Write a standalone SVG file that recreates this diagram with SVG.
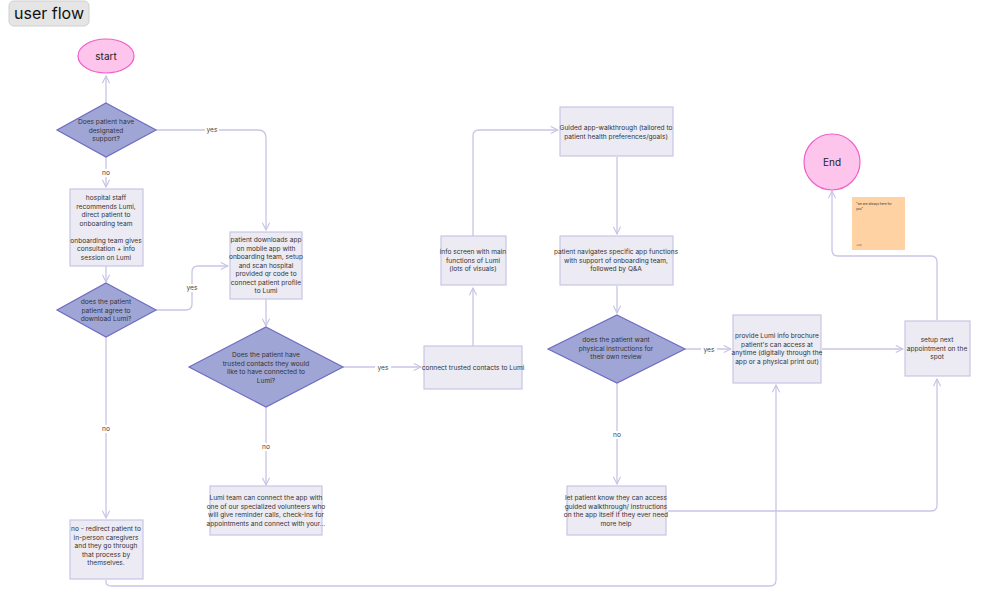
<svg xmlns="http://www.w3.org/2000/svg" width="1003" height="605" viewBox="0 0 1003 605">
<defs>
<marker id="ah" viewBox="0 0 10 10" refX="9" refY="5" markerWidth="9" markerHeight="9" orient="auto" markerUnits="userSpaceOnUse"><path d="M1,1 L9,5 L1,9" fill="none" stroke="#c6c2e4" stroke-width="1.2"/></marker>
<style>
.b{fill:#ecebf3;stroke:#c9c5e4;stroke-width:1.2}
.d{fill:#9fa6d6;stroke:#6e6cc2;stroke-width:1.2}
.t{font-family:Inter,"Liberation Sans",sans-serif;font-size:6.6px;fill:#333;text-anchor:middle}
.l{font-family:Inter,"Liberation Sans",sans-serif;font-size:6.6px;fill:#444;text-anchor:middle}
.c path{fill:none;stroke:#c9c5e6;stroke-width:1.3;marker-end:url(#ah)}
.c path.n{marker-end:none}
.lb{fill:#fff}
</style>
</defs>
<rect width="1003" height="605" fill="#fff"/>
<g id="title"><rect x="9" y="1" width="80" height="25" rx="5" fill="#e5e5e5" stroke="#cfcfcf"/><text x="49" y="19" font-family="Inter,'Liberation Sans',sans-serif" font-size="16" fill="#111" text-anchor="middle">user flow</text></g>
<g class="c" id="connectors">
<path d="M106,103 V76"/>
<path d="M156,130 H258 Q266,130 266,138 V230"/>
<path d="M106,157 V187"/>
<path d="M106,266 V282"/>
<path d="M156,310 H186 Q192,310 192,304 V272 Q192,266 198,266 H228"/>
<path d="M106,337 V518"/>
<path d="M106,580 V582 Q106,586 112,586 H770 Q776,586 776,580 V385"/>
<path d="M266,299 V326"/>
<path d="M343,367 H421"/>
<path d="M266,407 V485"/>
<path d="M473,346 V288"/>
<path d="M473,236 V136 Q473,130 479,130 H558"/>
<path d="M617,157 V234"/>
<path d="M617,286 V313"/>
<path d="M685,349 H731"/>
<path d="M617,383 V484"/>
<path d="M668,511 H931 Q937,511 937,505 V379"/>
<path d="M822,349 H903"/>
<path d="M937,320 V262 Q937,256 931,256 H838 Q832,256 832,250 V191"/>
<rect class="lb" x="205" y="126" width="14" height="8"/><text class="l" x="212" y="132">yes</text>
<rect class="lb" x="99" y="169" width="14" height="8"/><text class="l" x="106" y="175">no</text>
<rect class="lb" x="185" y="284" width="14" height="8"/><text class="l" x="192" y="290">yes</text>
<rect class="lb" x="99" y="425" width="14" height="8"/><text class="l" x="106" y="431">no</text>
<rect class="lb" x="375" y="363" width="16" height="8"/><text class="l" x="383" y="369.5">yes</text>
<rect class="lb" x="259" y="443" width="14" height="8"/><text class="l" x="266" y="449">no</text>
<rect class="lb" x="701" y="345" width="16" height="8"/><text class="l" x="709" y="351.5">yes</text>
<rect class="lb" x="610" y="431" width="14" height="8"/><text class="l" x="617" y="437">no</text>
</g>
<g id="start"><ellipse cx="106" cy="56" rx="28" ry="17" fill="#fdc4ec" stroke="#f060c8" stroke-width="1.2"/><text x="106" y="60" font-family="Inter,'Liberation Sans',sans-serif" font-size="10" fill="#222" text-anchor="middle">start</text></g>
<g id="q1"><path class="d" d="M106,103 L156,130 L106,157 L57,130Z"/><text class="t" x="106" y="124">Does patient have</text><text class="t" x="106" y="132.5">designated</text><text class="t" x="106" y="141">support?</text></g>
<g id="staff"><rect class="b" x="70" y="189" width="73" height="77"/><text class="t" x="106" y="200">hospital staff</text><text class="t" x="106" y="208.5">recommends Lumi,</text><text class="t" x="106" y="217">direct patient to</text><text class="t" x="106" y="225.5">onboarding team</text><text class="t" x="106" y="242.5">onboarding team gives</text><text class="t" x="106" y="251">consultation + info</text><text class="t" x="106" y="259.5">session on Lumi</text></g>
<g id="q2"><path class="d" d="M106,283 L156,310 L106,337 L57,310Z"/><text class="t" x="106" y="304">does the patient</text><text class="t" x="106" y="312.5">patient agree to</text><text class="t" x="106" y="321">download Lumi?</text></g>
<g id="redirect"><rect class="b" x="70" y="520" width="73" height="59"/><text class="t" x="106" y="531">no - redirect patient to</text><text class="t" x="106" y="539.5">in-person caregivers</text><text class="t" x="106" y="548">and they go through</text><text class="t" x="106" y="556.5">that process by</text><text class="t" x="106" y="565">themselves.</text></g>
<g id="download"><rect class="b" x="230" y="232" width="72" height="67"/><text class="t" x="266" y="242">patient downloads app</text><text class="t" x="266" y="250.5">on mobile app with</text><text class="t" x="266" y="259">onboarding team, setup</text><text class="t" x="266" y="267.5">and scan hospital</text><text class="t" x="266" y="276">provided qr code to</text><text class="t" x="266" y="284.5">connect patient profile</text><text class="t" x="266" y="293">to Lumi</text></g>
<g id="q3"><path class="d" d="M266,327 L343,367 L266,407 L189,367Z"/><text class="t" x="266" y="357">Does the patient have</text><text class="t" x="266" y="365.5">trusted contacts they would</text><text class="t" x="266" y="374">like to have connected to</text><text class="t" x="266" y="382.5">Lumi?</text></g>
<g id="volunteer"><rect class="b" x="210" y="486" width="112" height="49"/><text class="t" x="266" y="500">Lumi team can connect the app with</text><text class="t" x="266" y="508.5">one of our specialized volunteers who</text><text class="t" x="266" y="517">will give reminder calls, check-ins for</text><text class="t" x="266" y="525.5">appointments and connect with your...</text></g>
<g id="connect"><rect class="b" x="424" y="346" width="98" height="43"/><text class="t" x="473" y="370">connect trusted contacts to Lumi</text></g>
<g id="info"><rect class="b" x="441" y="236" width="65" height="49"/><text class="t" x="473" y="254">info screen with main</text><text class="t" x="473" y="262.5">functions of Lumi</text><text class="t" x="473" y="271">(lots of visuals)</text></g>
<g id="guided"><rect class="b" x="560" y="107" width="113" height="49"/><text class="t" x="616" y="130">Guided app-walkthrough (tailored to</text><text class="t" x="616" y="138.5">patient health preferences/goals)</text></g>
<g id="navigate"><rect class="b" x="560" y="236" width="113" height="49"/><text class="t" x="616" y="254">patient navigates specific app functions</text><text class="t" x="616" y="262.5">with support of onboarding team,</text><text class="t" x="616" y="271">followed by Q&amp;A</text></g>
<g id="q4"><path class="d" d="M617,315 L685,349 L617,383 L548,349Z"/><text class="t" x="616" y="342">does the patient want</text><text class="t" x="616" y="350.5">physical instructions for</text><text class="t" x="616" y="359">their own review</text></g>
<g id="letknow"><rect class="b" x="567" y="486" width="99" height="49"/><text class="t" x="616" y="500">let patient know they can access</text><text class="t" x="616" y="508.5">guided walkthrough/ instructions</text><text class="t" x="616" y="517">on the app itself if they ever need</text><text class="t" x="616" y="525.5">more help</text></g>
<g id="brochure"><rect class="b" x="733" y="315" width="88" height="68"/><text class="t" x="777" y="338">provide Lumi info brochure</text><text class="t" x="777" y="346.5">patient's can access at</text><text class="t" x="777" y="355">anytime (digitally through the</text><text class="t" x="777" y="363.5">app or a physical print out)</text></g>
<g id="setup"><rect class="b" x="905" y="321" width="65" height="55"/><text class="t" x="937" y="342">setup next</text><text class="t" x="937" y="350.5">appointment on the</text><text class="t" x="937" y="359">spot</text></g>
<g id="end"><circle cx="832" cy="162" r="28" fill="#fdc4ec" stroke="#f060c8" stroke-width="1.2"/><text x="832" y="166" font-family="Inter,'Liberation Sans',sans-serif" font-size="10" fill="#222" text-anchor="middle">End</text></g>
<g id="sticky"><rect x="852" y="197" width="53" height="53" fill="#ffd2a3"/><text x="856" y="205" font-family="Inter,'Liberation Sans',sans-serif" font-size="3.2" fill="#333">"we are always here for</text><text x="856" y="210" font-family="Inter,'Liberation Sans',sans-serif" font-size="3.2" fill="#333">you"</text><text x="856" y="246" font-family="Inter,'Liberation Sans',sans-serif" font-size="2.5" fill="#777">Julia</text></g>
</svg>
